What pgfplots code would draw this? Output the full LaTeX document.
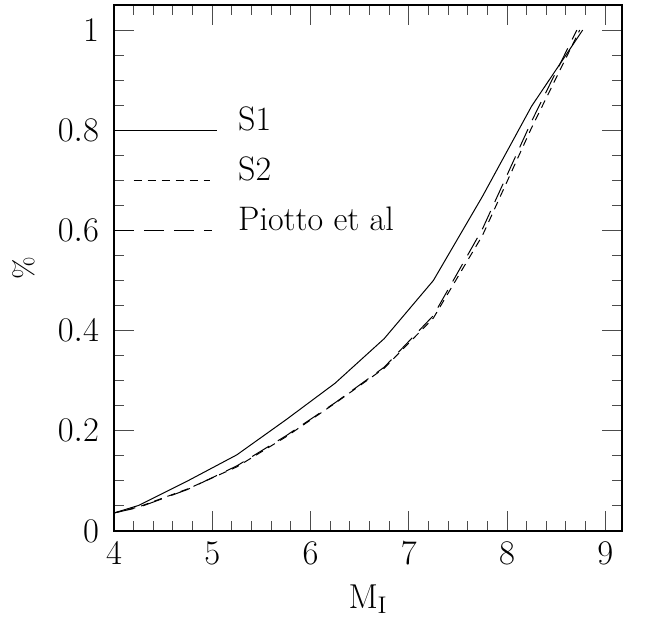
\documentclass[border=0pt]{standalone}
\usepackage{pgfplots}
\pgfplotsset{compat=1.18}
\begin{document}
\begin{tikzpicture}
\path[use as bounding box] (-57pt,-43.5pt) rectangle (265.5pt,265.5pt);
\begin{axis}[
  at={(0,0)}, anchor=south west,
  scale only axis, width=254pt, height=263pt,
  xmin=4, xmax=9.17, ymin=0, ymax=1.05,
  xtick={4,5,6,7,8,9}, minor x tick num=4,
  ytick={0,0.2,0.4,0.6,0.8,1}, minor y tick num=3,
  tick align=inside, major tick length=10pt, minor tick length=5pt,
  axis line style={line width=0.6pt},
  every tick/.style={line width=0.5pt, black!70},
  tick label style={font=\fontsize{17}{20}\selectfont},
  label style={font=\fontsize{17}{20}\selectfont},
  yticklabel style={/pgf/number format/fixed, xshift=-4pt},
  xticklabel style={yshift=-2pt},
  xlabel={$\mathrm{M_I}$},
  ylabel={\%},
  xlabel style={at={(axis description cs:0.5,0)}, anchor=center, yshift=-34pt},
  ylabel style={at={(axis description cs:0,0.5)}, anchor=center, yshift=45pt, font=\fontsize{14}{16}\selectfont},
  clip=false,
]
% S1 (solid)
\addplot[black, line width=0.5pt] table {
x y
4.00 0.036
4.25 0.051
4.75 0.100
5.25 0.152
5.75 0.222
6.25 0.295
6.75 0.384
7.25 0.500
7.75 0.668
8.25 0.848
8.77 1.000
};
% S2 (short dash)
\addplot[black, line width=0.5pt, dash pattern=on 4pt off 3pt] table {
x y
4.00 0.036
4.25 0.048
4.75 0.084
5.25 0.128
5.75 0.188
6.25 0.255
6.75 0.325
7.25 0.425
7.75 0.590
8.25 0.805
8.74 1.000
};
% Piotto et al (long dash)
\addplot[black, line width=0.5pt, dash pattern=on 10pt off 5pt] table {
x y
4.00 0.036
4.25 0.047
4.75 0.083
5.25 0.130
5.75 0.190
6.25 0.256
6.75 0.327
7.25 0.430
7.75 0.603
8.25 0.818
8.71 1.000
};
% legend
\addplot[black, line width=0.5pt] coordinates {(4,0.8) (5.05,0.8)};
\addplot[black, line width=0.5pt, dash pattern=on 4pt off 3pt] coordinates {(4.2,0.7) (4.98,0.7)};
\addplot[black, line width=0.5pt, dash pattern=on 10pt off 5pt] coordinates {(4,0.6) (5.0,0.6)};
\node[anchor=base west, inner sep=0pt, font=\fontsize{17}{20}\selectfont] at (axis cs:5.26,0.8) {S1};
\node[anchor=base west, inner sep=0pt, font=\fontsize{17}{20}\selectfont] at (axis cs:5.26,0.7) {S2};
\node[anchor=base west, inner sep=0pt, font=\fontsize{17}{20}\selectfont] at (axis cs:5.26,0.6) {Piotto et al};
\end{axis}
\end{tikzpicture}
\end{document}
